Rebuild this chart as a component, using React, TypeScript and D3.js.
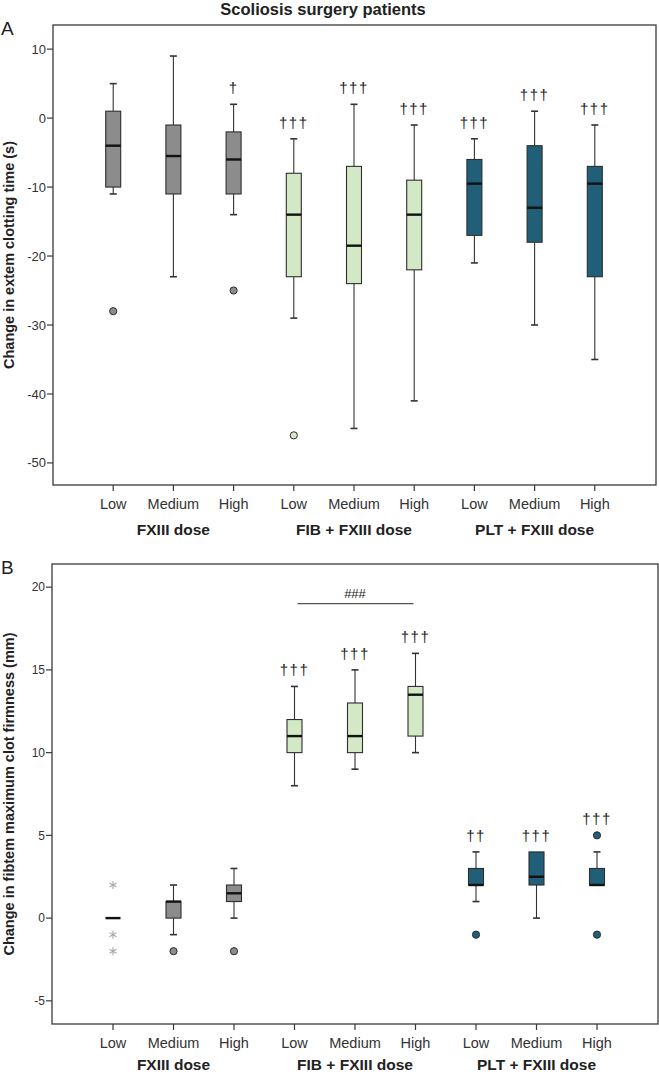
import * as d3 from "d3";

// categories
const groups = ["FXIII dose", "FIB + FXIII dose", "PLT + FXIII dose"];
const doses = ["Low", "Medium", "High"];
const categories = groups.flatMap((g) => doses.map((d) => `${g}|${d}`));
const groupColors = ["#8c8c8c", "#d3e8c4", "#215f79"];

// panel A: change in extem clotting time (s)
const extemLow = [-11, -23, -14, -29, -45, -41, -21, -30, -35];
const extemQ1 = [-10, -11, -11, -23, -24, -22, -17, -18, -23];
const extemMedian = [-4, -5.5, -6, -14, -18.5, -14, -9.5, -13, -9.5];
const extemQ3 = [1, -1, -2, -8, -7, -9, -6, -4, -7];
const extemHigh = [5, 9, 2, -3, 2, -1, -3, 1, -1];
const extemOutliers = [[-28], [], [-25], [-46], [], [], [], [], []];
const extemExtremes = [[], [], [], [], [], [], [], [], []];
const extemMarks = ["", "", "†", "†††", "†††", "†††", "†††", "†††", "†††"];
const extemTicks = [10, 0, -10, -20, -30, -40, -50];

// panel B: change in fibtem maximum clot firmness (mm)
const fibtemLow = [0, -1, 0, 8, 9, 10, 1, 0, 2];
const fibtemQ1 = [0, 0, 1, 10, 10, 11, 2, 2, 2];
const fibtemMedian = [0, 1, 1.5, 11, 11, 13.5, 2, 2.5, 2];
const fibtemQ3 = [0, 1, 2, 12, 13, 14, 3, 4, 3];
const fibtemHigh = [0, 2, 3, 14, 15, 16, 4, 4, 4];
const fibtemOutliers = [[], [-2], [-2], [], [], [], [-1], [], [5, -1]];
const fibtemExtremes = [[2, -1, -2], [], [], [], [], [], [], [], []];
const fibtemMarks = ["", "", "", "†††", "†††", "†††", "††", "†††", "†††"];
const fibtemTicks = [20, 15, 10, 5, 0, -5];
const fibtemBracket = { from: "FIB + FXIII dose|Low", to: "FIB + FXIII dose|High", value: 19, label: "###" };

const W = 659;
const H = 1075;
const FONT = "'Liberation Sans', Arial, sans-serif";

type PanelProps = {
  letter: string;
  top: number;
  bottom: number;
  left: number;
  right: number;
  domain: [number, number];
  xRange: [number, number];
  ticks: number[];
  tickSize: number;
  groupGap: number;
  yLabel: string;
  low: number[];
  q1: number[];
  median: number[];
  q3: number[];
  high: number[];
  outliers: number[][];
  extremes: number[][];
  marks: string[];
  bracket?: { from: string; to: string; value: number; label: string };
};

function Panel(p: PanelProps) {
  const y = d3.scaleLinear().domain(p.domain).range([p.bottom, p.top]);
  const x = d3.scalePoint<string>().domain(categories).range(p.xRange).padding(1);
  const boxW = 15;
  const capW = 7;
  const star = d3.symbol().type(d3.symbolAsterisk).size(45)();

  return (
    <g>
      <text x={1} y={p.top + 10} fontSize={19} fontFamily={FONT} fill="#222">
        {p.letter}
      </text>
      <rect x={p.left} y={p.top} width={p.right - p.left} height={p.bottom - p.top} fill="none" stroke="#3a3a3a" strokeWidth={1.3} />
      {/* y axis */}
      {p.ticks.map((t) => (
        <g key={t}>
          <line x1={p.left - 6} x2={p.left} y1={y(t)} y2={y(t)} stroke="#3a3a3a" strokeWidth={1.2} />
          <text x={p.left - 7} y={y(t)} dy="0.35em" textAnchor="end" fontSize={p.tickSize} fontFamily={FONT} fill="#333">
            {t}
          </text>
        </g>
      ))}
      <text
        transform={`translate(14,${(p.top + p.bottom) / 2}) rotate(-90)`}
        textAnchor="middle"
        fontSize={14.5}
        fontWeight="bold"
        fontFamily={FONT}
        fill="#222"
      >
        {p.yLabel}
      </text>
      {/* x axis */}
      {categories.map((c, i) => (
        <g key={c}>
          <line x1={x(c)} x2={x(c)} y1={p.bottom} y2={p.bottom + 6} stroke="#3a3a3a" strokeWidth={1.2} />
          <text x={x(c)} y={p.bottom + 24} textAnchor="middle" fontSize={14.5} fontFamily={FONT} fill="#333">
            {doses[i % 3]}
          </text>
        </g>
      ))}
      {groups.map((g) => (
        <text key={g} x={x(`${g}|Medium`)} y={p.bottom + p.groupGap} textAnchor="middle" fontSize={15.5} fontWeight="bold" fontFamily={FONT} fill="#222">
          {g}
        </text>
      ))}
      {/* boxes */}
      {categories.map((c, i) => {
        const cx = x(c) as number;
        const color = groupColors[Math.floor(i / 3)];
        const topVal = d3.max([p.high[i], ...p.outliers[i], ...p.extremes[i]]) as number;
        return (
          <g key={c}>
            {p.high[i] > p.q3[i] && (
              <g stroke="#333" strokeWidth={1.1}>
                <line x1={cx} x2={cx} y1={y(p.q3[i])} y2={y(p.high[i])} />
                <line x1={cx - capW / 2} x2={cx + capW / 2} y1={y(p.high[i])} y2={y(p.high[i])} strokeWidth={1.6} />
              </g>
            )}
            {p.low[i] < p.q1[i] && (
              <g stroke="#333" strokeWidth={1.1}>
                <line x1={cx} x2={cx} y1={y(p.q1[i])} y2={y(p.low[i])} />
                <line x1={cx - capW / 2} x2={cx + capW / 2} y1={y(p.low[i])} y2={y(p.low[i])} strokeWidth={1.6} />
              </g>
            )}
            {p.q3[i] > p.q1[i] && (
              <rect
                x={cx - boxW / 2}
                y={y(p.q3[i])}
                width={boxW}
                height={y(p.q1[i]) - y(p.q3[i])}
                fill={color}
                stroke="#2e2e2e"
                strokeWidth={1.1}
              />
            )}
            <line x1={cx - boxW / 2} x2={cx + boxW / 2} y1={y(p.median[i])} y2={y(p.median[i])} stroke="#111" strokeWidth={2.4} />
            {p.outliers[i].map((v, j) => (
              <circle key={j} cx={cx} cy={y(v)} r={3.6} fill={color} stroke="#2e2e2e" strokeWidth={1} />
            ))}
            {p.extremes[i].map((v, j) => (
              <path key={j} d={star} transform={`translate(${cx},${y(v)})`} fill="none" stroke="#a8a8a8" strokeWidth={1.1} />
            ))}
            {p.marks[i] && (
              <text x={cx} y={y(topVal) - 11} textAnchor="middle" fontSize={15} fontFamily={FONT} fill="#222" letterSpacing={1.5}>
                {p.marks[i]}
              </text>
            )}
          </g>
        );
      })}
      {p.bracket && (
        <g>
          <line
            x1={(x(p.bracket.from) as number) + 3}
            x2={(x(p.bracket.to) as number) - 2}
            y1={y(p.bracket.value)}
            y2={y(p.bracket.value)}
            stroke="#555"
            strokeWidth={1.2}
          />
          <text
            x={((x(p.bracket.from) as number) + (x(p.bracket.to) as number)) / 2}
            y={y(p.bracket.value) - 6}
            textAnchor="middle"
            fontSize={13}
            fontFamily={FONT}
            fill="#222"
          >
            {p.bracket.label}
          </text>
        </g>
      )}
    </g>
  );
}

export default function App() {
  return (
    <svg width={W} height={H} style={{ position: "absolute", left: 0, top: 0, background: "#fff" }}>
      <text x={323} y={15} textAnchor="middle" fontSize={16.5} fontWeight="bold" fontFamily={FONT} fill="#222">
        Scoliosis surgery patients
      </text>
      <Panel
        letter="A"
        top={25}
        bottom={485}
        left={53}
        right={656}
        domain={[-53.2, 13.5]}
        xRange={[53, 655]}
        ticks={extemTicks}
        tickSize={13}
        groupGap={50}
        yLabel="Change in extem clotting time (s)"
        low={extemLow}
        q1={extemQ1}
        median={extemMedian}
        q3={extemQ3}
        high={extemHigh}
        outliers={extemOutliers}
        extremes={extemExtremes}
        marks={extemMarks}
      />
      <Panel
        letter="B"
        top={564}
        bottom={1024}
        left={52}
        right={658}
        domain={[-6.4, 21.4]}
        xRange={[52.5, 657.5]}
        ticks={fibtemTicks}
        tickSize={12}
        groupGap={46}
        yLabel="Change in fibtem maximum clot firmness (mm)"
        low={fibtemLow}
        q1={fibtemQ1}
        median={fibtemMedian}
        q3={fibtemQ3}
        high={fibtemHigh}
        outliers={fibtemOutliers}
        extremes={fibtemExtremes}
        marks={fibtemMarks}
        bracket={fibtemBracket}
      />
    </svg>
  );
}
